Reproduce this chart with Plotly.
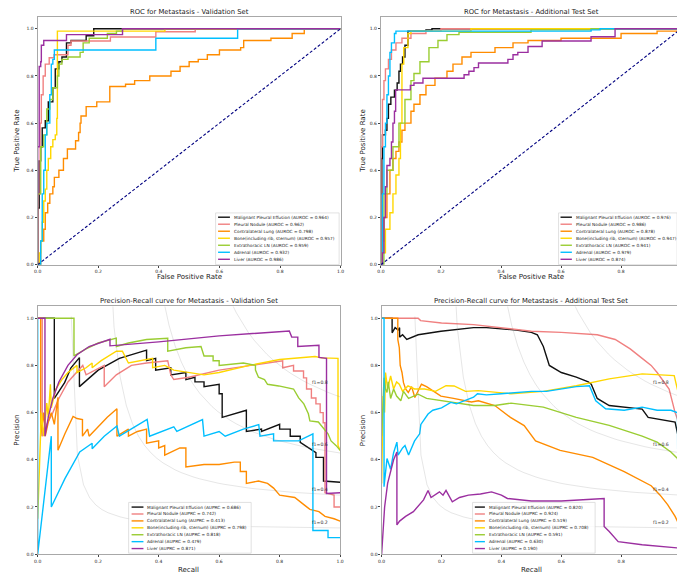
import numpy as np
import plotly.graph_objects as go

W, H = 685, 575
FONT = "DejaVu Sans"

NAMES = ["Malignant Pleural Effusion", "Pleural Nodule", "Contralateral Lung",
         "Bone(including rib, sternum)", "Extrathoracic LN", "Adrenal", "Liver"]
COLORS = ["#111111", "#F08080", "#FF8C00", "#FFD700", "#9ACD32", "#00BFFF", "#9B2FA0"]

AUROC_VAL = [0.964, 0.962, 0.798, 0.957, 0.959, 0.932, 0.986]
AUROC_TEST = [0.976, 0.986, 0.878, 0.947, 0.941, 0.979, 0.874]
AUPRC_VAL = [0.686, 0.742, 0.413, 0.798, 0.818, 0.479, 0.871]
AUPRC_TEST = [0.820, 0.924, 0.519, 0.708, 0.591, 0.630, 0.190]

F1_LEVELS = [0.2, 0.4, 0.6, 0.8]
TICKS = [0.0, 0.2, 0.4, 0.6, 0.8, 1.0]

# ---- ROC, validation set (fpr, tpr)
roc_val_mpe = [(0, 0), (0, 0.24), (0.005, 0.44), (0.01, 0.5), (0.015, 0.58), (0.025, 0.61), (0.035, 0.69),
               (0.05, 0.75), (0.058, 0.83), (0.07, 0.86), (0.08, 0.88), (0.095, 0.94), (0.11, 0.95),
               (0.16, 0.97), (0.185, 1.0), (1, 1)]
roc_val_pn = [(0, 0), (0, 0.3), (0.008, 0.6), (0.012, 0.72), (0.018, 0.8), (0.025, 0.85), (0.038, 0.877),
              (0.054, 0.89), (0.1, 0.93), (0.11, 0.948), (0.24, 0.965), (0.39, 0.987), (0.52, 1.0), (1, 1)]
roc_val_cl = [(0, 0), (0.01, 0.1), (0.02, 0.15), (0.025, 0.22), (0.033, 0.26), (0.04, 0.3), (0.05, 0.33),
              (0.055, 0.37), (0.07, 0.4), (0.085, 0.45), (0.098, 0.49), (0.125, 0.525), (0.135, 0.56),
              (0.14, 0.6), (0.143, 0.63), (0.16, 0.67), (0.195, 0.69), (0.238, 0.755), (0.29, 0.765),
              (0.32, 0.78), (0.37, 0.8), (0.44, 0.82), (0.47, 0.84), (0.5, 0.86), (0.53, 0.87), (0.56, 0.89),
              (0.6, 0.91), (0.67, 0.92), (0.68, 0.95), (0.77, 0.96), (0.84, 0.98), (0.88, 1.0), (1, 1)]
roc_val_bone = [(0, 0), (0.005, 0.05), (0.01, 0.1), (0.015, 0.18), (0.02, 0.27), (0.025, 0.32), (0.03, 0.4),
                (0.035, 0.45), (0.043, 0.5), (0.05, 0.53), (0.058, 0.55), (0.063, 0.62), (0.065, 0.99),
                (0.42, 1.0), (1, 1)]
roc_val_eln = [(0, 0), (0, 0.3), (0.01, 0.5), (0.02, 0.55), (0.03, 0.66), (0.04, 0.7), (0.05, 0.75),
               (0.065, 0.8), (0.07, 0.85), (0.08, 0.87), (0.1, 0.88), (0.14, 0.9), (0.15, 0.94),
               (0.17, 0.96), (0.23, 0.98), (0.26, 0.99), (0.28, 1.0), (1, 1)]
roc_val_adr = [(0, 0), (0.01, 0.1), (0.015, 0.3), (0.02, 0.4), (0.025, 0.55), (0.03, 0.6), (0.04, 0.72),
               (0.045, 0.85), (0.05, 0.87), (0.055, 0.91), (0.39, 0.96), (0.66, 1.0), (1, 1)]
roc_val_liver = [(0, 0), (0, 0.5), (0.005, 0.84), (0.01, 0.86), (0.012, 0.93), (0.02, 0.95), (0.095, 0.975),
                 (0.28, 1.0), (1, 1)]

# ---- ROC, additional test set (fpr, tpr)
roc_test_mpe = [(0, 0), (0, 0.3), (0.003, 0.45), (0.005, 0.55), (0.015, 0.57), (0.02, 0.62), (0.025, 0.68),
                (0.033, 0.71), (0.045, 0.74), (0.054, 0.77), (0.06, 0.82), (0.065, 0.85), (0.072, 0.88),
                (0.08, 0.93), (0.09, 0.99), (0.15, 0.995), (0.17, 1.0), (1, 1)]
roc_test_pn = [(0, 0), (0, 0.5), (0.005, 0.7), (0.01, 0.78), (0.015, 0.83), (0.025, 0.87), (0.035, 0.91),
               (0.05, 0.94), (0.07, 0.96), (0.1, 0.98), (0.15, 0.99), (0.2, 1.0), (1, 1)]
roc_test_cl = [(0, 0), (0.005, 0.1), (0.01, 0.2), (0.02, 0.3), (0.03, 0.4), (0.04, 0.45), (0.05, 0.48),
               (0.06, 0.52), (0.07, 0.57), (0.08, 0.6), (0.1, 0.65), (0.11, 0.68), (0.13, 0.72), (0.15, 0.76),
               (0.18, 0.79), (0.22, 0.82), (0.24, 0.85), (0.27, 0.88), (0.3, 0.9), (0.38, 0.92), (0.44, 0.94),
               (0.49, 0.95), (0.6, 0.96), (0.8, 0.98), (0.92, 0.99), (1, 1)]
roc_test_bone = [(0, 0), (0.005, 0.05), (0.015, 0.15), (0.03, 0.22), (0.04, 0.3), (0.05, 0.38), (0.06, 0.45),
                 (0.065, 0.6), (0.07, 0.85), (0.076, 0.92), (0.09, 0.98), (0.1, 0.99), (0.3, 1.0), (1, 1)]
roc_test_eln = [(0, 0), (0.01, 0.3), (0.02, 0.4), (0.04, 0.5), (0.06, 0.6), (0.08, 0.7), (0.1, 0.78),
                (0.11, 0.81), (0.13, 0.86), (0.16, 0.92), (0.19, 0.95), (0.22, 0.975), (0.26, 0.985),
                (0.5, 0.995), (0.7, 1.0), (1, 1)]
roc_test_adr = [(0, 0), (0.005, 0.3), (0.01, 0.5), (0.015, 0.6), (0.02, 0.72), (0.025, 0.8), (0.03, 0.9),
                (0.035, 0.94), (0.045, 0.98), (0.05, 0.99), (0.4, 0.99), (0.7, 0.995), (0.73, 1.0), (1, 1)]
roc_test_liver = [(0, 0), (0.005, 0.05), (0.01, 0.2), (0.015, 0.33), (0.02, 0.42), (0.03, 0.45), (0.035, 0.52),
                  (0.04, 0.6), (0.045, 0.65), (0.049, 0.741), (0.098, 0.76), (0.11, 0.77), (0.14, 0.79),
                  (0.277, 0.805), (0.293, 0.82), (0.31, 0.835), (0.325, 0.855), (0.423, 0.87), (0.44, 0.89),
                  (0.456, 0.9), (0.49, 0.925), (0.537, 0.948), (0.7, 0.966), (0.78, 1.0), (1, 1)]

# ---- Precision-Recall, validation set (recall, precision)
pr_val_mpe = [(0, 1), (0.055, 1), (0.055, 0.66), (0.089, 0.727), (0.11, 0.79), (0.138, 0.833), (0.138, 0.71),
              (0.2, 0.78), (0.27, 0.83), (0.36, 0.865), (0.36, 0.82), (0.39, 0.83), (0.39, 0.78), (0.44, 0.79),
              (0.44, 0.76), (0.49, 0.77), (0.49, 0.74), (0.52, 0.75), (0.52, 0.73), (0.55, 0.73), (0.55, 0.71),
              (0.6, 0.72), (0.6, 0.68), (0.61, 0.68), (0.61, 0.58), (0.69, 0.61), (0.69, 0.52), (0.74, 0.53),
              (0.74, 0.52), (0.8, 0.55), (0.8, 0.53), (0.835, 0.53), (0.835, 0.5), (0.868, 0.5), (0.868, 0.474),
              (0.9, 0.447), (0.92, 0.43), (0.92, 0.41), (0.945, 0.41), (0.945, 0.31), (1.0, 0.305)]
pr_val_pn = [(0, 1), (0.015, 1), (0.015, 0.5), (0.03, 0.55), (0.05, 0.6), (0.07, 0.66), (0.1, 0.73),
             (0.149, 0.8), (0.16, 0.76), (0.19, 0.78), (0.22, 0.8), (0.22, 0.71), (0.26, 0.76), (0.31, 0.8),
             (0.36, 0.81), (0.43, 0.82), (0.44, 0.76), (0.45, 0.74), (0.5, 0.75), (0.6, 0.78), (0.7, 0.8),
             (0.81, 0.82), (0.81, 0.79), (0.846, 0.8), (0.846, 0.776), (0.879, 0.776), (0.879, 0.747),
             (0.889, 0.747), (0.889, 0.7), (0.905, 0.7), (0.905, 0.662), (0.92, 0.662), (0.92, 0.637),
             (0.934, 0.637), (0.934, 0.6), (0.944, 0.6), (0.944, 0.557), (0.95, 0.557), (0.95, 0.26),
             (0.98, 0.25), (0.98, 0.2), (1, 0.2)]
pr_val_cl = [(0, 1), (0.01, 1), (0.01, 0.5), (0.02, 0.6), (0.025, 0.5), (0.035, 0.56), (0.045, 0.6),
             (0.055, 0.55), (0.067, 0.665), (0.067, 0.44), (0.09, 0.51), (0.117, 0.584), (0.13, 0.575),
             (0.148, 0.57), (0.148, 0.5), (0.16, 0.52), (0.165, 0.53), (0.17, 0.5), (0.2, 0.54), (0.23, 0.58),
             (0.262, 0.616), (0.262, 0.5), (0.3, 0.53), (0.3, 0.5), (0.33, 0.52), (0.36, 0.53), (0.36, 0.47),
             (0.4, 0.48), (0.4, 0.45), (0.42, 0.46), (0.42, 0.42), (0.47, 0.45), (0.49, 0.45), (0.49, 0.37),
             (0.55, 0.38), (0.6, 0.38), (0.65, 0.39), (0.67, 0.39), (0.67, 0.35), (0.69, 0.35), (0.69, 0.3),
             (0.73, 0.31), (0.76, 0.3), (0.78, 0.28), (0.8, 0.25), (0.85, 0.24), (0.88, 0.21), (0.9, 0.19),
             (0.93, 0.18), (0.95, 0.16), (0.98, 0.15), (1, 0.14)]
pr_val_bone = [(0, 0.15), (0.012, 0.6), (0.02, 0.5), (0.03, 0.64), (0.035, 0.58), (0.042, 0.72), (0.045, 0.62),
               (0.06, 0.7), (0.08, 0.74), (0.1, 0.77), (0.13, 0.8), (0.13, 0.77), (0.16, 0.79), (0.18, 0.81),
               (0.18, 0.79), (0.21, 0.82), (0.26, 0.86), (0.28, 0.86), (0.3, 0.81), (0.34, 0.82), (0.38, 0.83),
               (0.38, 0.79), (0.42, 0.8), (0.45, 0.78), (0.5, 0.77), (0.55, 0.76), (0.6, 0.77), (0.7, 0.8),
               (0.8, 0.825), (0.917, 0.838), (0.94, 0.832), (0.993, 0.83), (0.993, 0.46), (1, 0.44)]
pr_val_eln = [(0, 1), (0.12, 1), (0.12, 0.84), (0.16, 0.87), (0.2, 0.895), (0.26, 0.916), (0.26, 0.88),
              (0.3, 0.895), (0.36, 0.91), (0.43, 0.915), (0.43, 0.86), (0.49, 0.875), (0.54, 0.88),
              (0.55, 0.84), (0.58, 0.84), (0.58, 0.82), (0.6, 0.82), (0.6, 0.8), (0.68, 0.81), (0.72, 0.8),
              (0.72, 0.78), (0.73, 0.75), (0.75, 0.74), (0.76, 0.72), (0.797, 0.713), (0.846, 0.7),
              (0.863, 0.662), (0.88, 0.637), (0.895, 0.595), (0.9, 0.565), (0.928, 0.56), (0.938, 0.544),
              (0.96, 0.51), (0.97, 0.48), (0.987, 0.46), (1, 0.44)]
pr_val_adr = [(0, 1), (0, 0), (0.045, 0.5), (0.045, 0.2), (0.09, 0.32), (0.139, 0.433), (0.18, 0.47),
              (0.18, 0.447), (0.22, 0.5), (0.262, 0.543), (0.27, 0.5), (0.31, 0.53), (0.362, 0.571),
              (0.37, 0.5), (0.45, 0.54), (0.46, 0.52), (0.5, 0.545), (0.545, 0.57), (0.55, 0.5), (0.6, 0.52),
              (0.62, 0.5), (0.68, 0.53), (0.731, 0.549), (0.735, 0.5), (0.78, 0.51), (0.78, 0.48),
              (0.863, 0.48), (0.895, 0.5), (0.91, 0.51), (0.91, 0.1), (0.96, 0.1), (0.96, 0.07), (1, 0.07)]
pr_val_liver = [(0, 1), (0.024, 1), (0.024, 0.5), (0.035, 0.58), (0.05, 0.66), (0.07, 0.73), (0.1, 0.8),
                (0.13, 0.845), (0.17, 0.88), (0.239, 0.911), (0.239, 0.883), (0.4, 0.9), (0.6, 0.925),
                (0.832, 0.946), (0.84, 0.92), (0.86, 0.92), (0.86, 0.88), (0.93, 0.885), (0.93, 0.834),
                (0.955, 0.83), (0.955, 0.257), (1, 0.26)]

# ---- Precision-Recall, additional test set (recall, precision)
pr_test_mpe = [(0, 1), (0.035, 1), (0.035, 0.938), (0.045, 0.96), (0.055, 0.95), (0.06, 0.96), (0.06, 0.92),
               (0.07, 0.93), (0.084, 0.91), (0.122, 0.93), (0.198, 0.945), (0.307, 0.96), (0.35, 0.96),
               (0.45, 0.95), (0.5, 0.94), (0.52, 0.93), (0.54, 0.88), (0.56, 0.8), (0.6, 0.77), (0.65, 0.75),
               (0.69, 0.73), (0.7, 0.72), (0.72, 0.66), (0.76, 0.63), (0.87, 0.615), (0.89, 0.58),
               (0.98, 0.56), (0.99, 0.5), (1.0, 0.39)]
pr_test_pn = [(0, 1), (0.122, 1), (0.13, 0.99), (0.2, 0.98), (0.307, 0.973), (0.4, 0.96), (0.5, 0.945),
              (0.6, 0.94), (0.68, 0.935), (0.72, 0.93), (0.78, 0.91), (0.83, 0.87), (0.87, 0.83), (0.9, 0.8),
              (0.92, 0.77), (0.95, 0.72), (0.96, 0.7), (0.98, 0.6), (0.99, 0.56), (1.0, 0.53)]
pr_test_cl = [(0, 1), (0.054, 1), (0.054, 0.91), (0.059, 0.875), (0.062, 0.8), (0.068, 0.77), (0.073, 0.727),
              (0.08, 0.7), (0.089, 0.685), (0.1, 0.71), (0.111, 0.664), (0.133, 0.72), (0.15, 0.71),
              (0.176, 0.69), (0.198, 0.67), (0.24, 0.66), (0.3, 0.645), (0.323, 0.65), (0.378, 0.63),
              (0.43, 0.58), (0.476, 0.545), (0.514, 0.48), (0.596, 0.44), (0.705, 0.41), (0.81, 0.35),
              (0.9, 0.29), (0.93, 0.25), (0.955, 0.21), (0.98, 0.16), (0.995, 0.12), (1.0, 0.11)]
pr_test_bone = [(0, 0.3), (0.005, 0.67), (0.01, 0.6), (0.013, 0.77), (0.02, 0.7), (0.03, 0.755), (0.04, 0.7),
                (0.05, 0.73), (0.059, 0.72), (0.07, 0.69), (0.088, 0.713), (0.11, 0.7), (0.144, 0.7),
                (0.18, 0.69), (0.215, 0.714), (0.242, 0.713), (0.28, 0.69), (0.323, 0.693), (0.432, 0.68),
                (0.54, 0.69), (0.65, 0.714), (0.76, 0.743), (0.87, 0.764), (0.977, 0.757), (0.993, 0.67),
                (1.0, 0.55)]
pr_test_eln = [(0, 0.5), (0.008, 0.748), (0.013, 0.7), (0.018, 0.685), (0.022, 0.73), (0.03, 0.66),
               (0.04, 0.7), (0.05, 0.67), (0.064, 0.65), (0.073, 0.69), (0.09, 0.66), (0.122, 0.678),
               (0.15, 0.66), (0.2, 0.65), (0.25, 0.643), (0.307, 0.63), (0.378, 0.63), (0.432, 0.64),
               (0.54, 0.623), (0.65, 0.58), (0.76, 0.546), (0.87, 0.5), (0.92, 0.475), (0.966, 0.433),
               (0.988, 0.405), (1.0, 0.29)]
pr_test_adr = [(0, 1), (0.008, 1), (0.008, 0.286), (0.018, 0.405), (0.03, 0.36), (0.04, 0.43), (0.051, 0.475),
               (0.055, 0.42), (0.07, 0.45), (0.078, 0.46), (0.09, 0.42), (0.11, 0.48), (0.127, 0.51),
               (0.131, 0.55), (0.155, 0.594), (0.171, 0.61), (0.2, 0.62), (0.231, 0.643), (0.25, 0.637),
               (0.307, 0.665), (0.32, 0.68), (0.35, 0.675), (0.4, 0.68), (0.45, 0.685), (0.5, 0.69),
               (0.55, 0.69), (0.6, 0.7), (0.65, 0.71), (0.694, 0.714), (0.715, 0.65), (0.748, 0.616),
               (0.81, 0.61), (0.87, 0.623), (0.92, 0.61), (0.966, 0.61), (0.988, 0.6), (0.99, 0.068),
               (1.0, 0.068)]
pr_test_liver = [(0, 0), (0.01, 0.2), (0.02, 0.3), (0.03, 0.35), (0.04, 0.4), (0.051, 0.433), (0.051, 0.124),
                 (0.06, 0.14), (0.08, 0.16), (0.106, 0.18), (0.12, 0.2), (0.14, 0.23), (0.155, 0.27),
                 (0.165, 0.24), (0.193, 0.264), (0.205, 0.25), (0.215, 0.27), (0.236, 0.222), (0.26, 0.24),
                 (0.29, 0.25), (0.33, 0.255), (0.367, 0.264), (0.4, 0.25), (0.42, 0.236), (0.5, 0.225),
                 (0.6, 0.225), (0.743, 0.236), (0.743, 0.117), (0.76, 0.096), (0.79, 0.053), (0.87, 0.04),
                 (0.95, 0.03), (1.0, 0.025)]

ROC_VAL = [roc_val_mpe, roc_val_pn, roc_val_cl, roc_val_bone, roc_val_eln, roc_val_adr, roc_val_liver]
ROC_TEST = [roc_test_mpe, roc_test_pn, roc_test_cl, roc_test_bone, roc_test_eln, roc_test_adr, roc_test_liver]
PR_VAL = [pr_val_mpe, pr_val_pn, pr_val_cl, pr_val_bone, pr_val_eln, pr_val_adr, pr_val_liver]
PR_TEST = [pr_test_mpe, pr_test_pn, pr_test_cl, pr_test_bone, pr_test_eln, pr_test_adr, pr_test_liver]


def pxx(p):
    return p / W


def pxy(p):
    return 1 - p / H


fig = go.Figure()

# panel geometry in pixels: (left, right, top, bottom) of plot area, y range 0..1.05
PANELS = [
    ("x", "y", (26, 332.5, 9, 258)),
    ("x2", "y2", (373.3, 677, 9, 258)),
    ("x3", "y3", (26, 332, 300, 549)),
    ("x4", "y4", (374, 677, 300, 549)),
]

axis_common = dict(range=[0, 1], showgrid=False, zeroline=False, showline=True, mirror=True,
                   linecolor="#a8a8a8", linewidth=1.3, ticks="outside", ticklen=2, tickwidth=0.8,
                   tickcolor="#444", tickvals=TICKS, tickformat=".1f",
                   tickfont=dict(family=FONT, size=4.5, color="#222"))
layout_axes = {}
for i, (xa, ya, (l, r, t, b)) in enumerate(PANELS):
    xkey = "xaxis" if i == 0 else "xaxis%d" % (i + 1)
    ykey = "yaxis" if i == 0 else "yaxis%d" % (i + 1)
    layout_axes[xkey] = dict(axis_common, domain=[pxx(l), pxx(r)], anchor=ya)
    layout_axes[ykey] = dict(axis_common, range=[0, 1.05], domain=[pxy(b), pxy(t)], anchor=xa)

# curves
for (xa, ya, _), curves, shape in zip(PANELS, [ROC_VAL, ROC_TEST, PR_VAL, PR_TEST],
                                      ["hv", "hv", "linear", "linear"]):
    for pts, col in zip(curves, COLORS):
        fig.add_trace(go.Scatter(x=[p[0] for p in pts], y=[p[1] for p in pts], mode="lines",
                                 line=dict(color=col, width=1.4, shape=shape),
                                 xaxis=xa, yaxis=ya, showlegend=False, hoverinfo="skip"))

# chance diagonal on ROC panels
for xa, ya, _ in PANELS[:2]:
    fig.add_trace(go.Scatter(x=[0, 1], y=[0, 1], mode="lines",
                             line=dict(color="navy", width=1.1, dash="3px,2px"),
                             xaxis=xa, yaxis=ya, showlegend=False, hoverinfo="skip"))

annotations = []

# iso-F1 curves on PR panels
xs = np.linspace(0.01, 1, 50)
for xa, ya, _ in PANELS[2:]:
    for f in F1_LEVELS:
        ys = f * xs / (2 * xs - f)
        keep = ys >= 0
        fig.add_trace(go.Scatter(x=xs[keep], y=ys[keep], mode="lines",
                                 line=dict(color="rgba(128,128,128,0.22)", width=0.9),
                                 xaxis=xa, yaxis=ya, showlegend=False, hoverinfo="skip"))
        annotations.append(dict(x=0.9, y=ys[45] + 0.02, xref=xa, yref=ya, text="f1={:0.1f}".format(f),
                                showarrow=False, xanchor="left", yanchor="middle",
                                font=dict(family=FONT, size=4.6, color="#333")))

# titles and axis labels
TITLES = ["ROC for Metastasis - Validation Set", "ROC for Metastasis - Additional Test Set",
          "Precision-Recall curve for Metastasis - Validation Set",
          "Precision-Recall curve for Metastasis - Additional Test Set"]
XLABELS = ["False Positive Rate", "False Positive Rate", "Recall", "Recall"]
YLABELS = ["True Positive Rate", "True Positive Rate", "Precision", "Precision"]
TITLE_Y = [4.5, 4.5, 295, 295]
XLABEL_Y = [270, 270, 565, 565]
YLABEL_X = [5, 355, 5.5, 355]

for i, (_, _, (l, r, t, b)) in enumerate(PANELS):
    cx = (l + r) / 2
    annotations.append(dict(x=pxx(cx), y=pxy(TITLE_Y[i]), xref="paper", yref="paper", text=TITLES[i],
                            showarrow=False, xanchor="center", yanchor="middle",
                            font=dict(family=FONT, size=6.8, color="#222")))
    annotations.append(dict(x=pxx(cx), y=pxy(XLABEL_Y[i]), xref="paper", yref="paper", text=XLABELS[i],
                            showarrow=False, xanchor="center", yanchor="middle",
                            font=dict(family=FONT, size=7, color="#222")))
    annotations.append(dict(x=pxx(YLABEL_X[i]), y=pxy((t + b) / 2), xref="paper", yref="paper",
                            text=YLABELS[i], showarrow=False, textangle=-90, xanchor="center",
                            yanchor="middle", font=dict(family=FONT, size=7, color="#222")))

# hand-built legends (matplotlib-style compact boxes)
LEGENDS = [
    # box l, t, r, b, first row y, row step, swatch x0, x1, text x, metric, values
    (206, 206, 331, 258, 210.3, 7.05, 208.5, 220.5, 222.5, "AUROC", AUROC_VAL),
    (553, 206, 673, 258, 210.3, 7.05, 555, 566.5, 568.5, "AUROC", AUROC_TEST),
    (118, 497, 242, 548, 501.7, 6.95, 121, 133, 135, "AUPRC", AUPRC_VAL),
    (466, 497, 590, 548, 501.7, 6.95, 468.3, 478.5, 480.5, "AUPRC", AUPRC_TEST),
]
shapes = []
for bl, bt, br, bb, r0, dy, s0, s1, tx, metric, vals in LEGENDS:
    shapes.append(dict(type="rect", xref="paper", yref="paper", x0=pxx(bl), x1=pxx(br), y0=pxy(bb),
                       y1=pxy(bt), fillcolor="rgba(255,255,255,0.8)",
                       line=dict(color="#d4d4d4", width=0.7), layer="above"))
    for k, (name, col, v) in enumerate(zip(NAMES, COLORS, vals)):
        yy = pxy(r0 + k * dy)
        shapes.append(dict(type="line", xref="paper", yref="paper", x0=pxx(s0), x1=pxx(s1), y0=yy, y1=yy,
                           line=dict(color=col, width=1.4), layer="above"))
        annotations.append(dict(x=pxx(tx), y=yy, xref="paper", yref="paper",
                                text="{} ({} = {:.3f})".format(name, metric, v), showarrow=False,
                                xanchor="left", yanchor="middle",
                                font=dict(family=FONT, size=4.3, color="#222")))

fig.update_layout(width=W, height=H, margin=dict(l=0, r=0, t=0, b=0), paper_bgcolor="white",
                  plot_bgcolor="white", showlegend=False, annotations=annotations, shapes=shapes,
                  **layout_axes)

fig.write_html("out.html")
